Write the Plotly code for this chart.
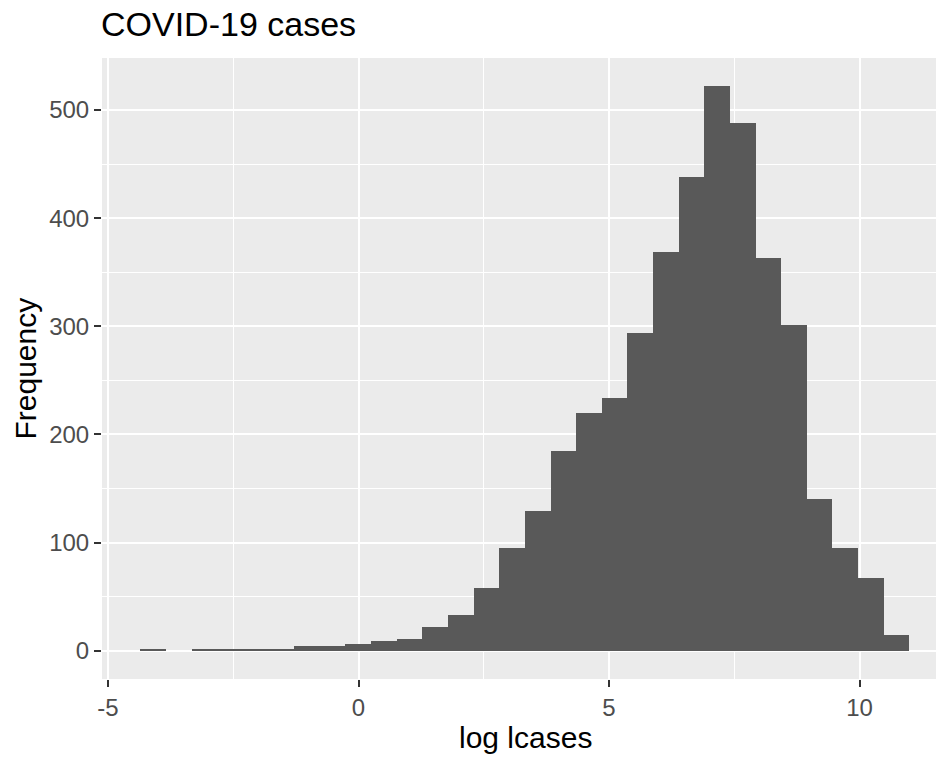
import plotly.graph_objects as go

# Histogram of log cases: 30 bins (centres)
bin_width = 0.5116
bin_centers = [-4.097, -3.586, -3.074, -2.562, -2.051, -1.539, -1.028, -0.516,
               -0.004, 0.507, 1.019, 1.531, 2.042, 2.554, 3.065, 3.577, 4.089,
               4.600, 5.112, 5.623, 6.135, 6.647, 7.158, 7.670, 8.181, 8.693,
               9.205, 9.716, 10.228, 10.739]
counts = [2, 0, 2, 2, 2, 2, 4, 4, 6, 9, 11, 22, 33, 58, 95, 129, 185, 220,
          234, 294, 369, 438, 522, 488, 363, 301, 140, 95, 67, 15]

x_ticks = [-5, 0, 5, 10]
y_ticks = [0, 100, 200, 300, 400, 500]

title_text = "COVID-19 cases"
x_title = "log lcases"
y_title = "Frequency"

FONT = "Liberation Sans, Arial, sans-serif"

fig = go.Figure()
fig.add_trace(go.Bar(
    x=bin_centers, y=counts, width=[bin_width] * len(counts),
    marker=dict(color="#595959", line=dict(width=0)),
    hoverinfo="x+y", showlegend=False,
))

fig.update_layout(
    width=936, height=760,
    margin=dict(l=102, r=0, t=58, b=81),
    paper_bgcolor="white",
    plot_bgcolor="#EBEBEB",
    bargap=0,
    font=dict(family=FONT, color="#4D4D4D"),
    title=dict(text=title_text, x=101 / 936, xanchor="left", xref="container",
               y=1 - 24 / 760, yanchor="middle", yref="container",
               font=dict(size=34, color="black", family=FONT)),
    xaxis=dict(
        range=[-5.12, 11.527], tickvals=x_ticks, ticktext=[str(v) for v in x_ticks],
        showgrid=True, gridcolor="white", gridwidth=2.2,
        zeroline=False, showline=False,
        ticks="outside", ticklen=7, tickwidth=2, tickcolor="#333333",
        tickfont=dict(size=24, color="#4D4D4D", family=FONT),
        minor=dict(tickvals=[-2.5, 2.5, 7.5], showgrid=True, gridcolor="white",
                   gridwidth=1.1, ticks=""),
    ),
    yaxis=dict(
        range=[-26.1, 548.1], tickvals=y_ticks, ticktext=[str(v) for v in y_ticks],
        showgrid=True, gridcolor="white", gridwidth=2.2,
        zeroline=False, showline=False,
        ticks="outside", ticklen=7, tickwidth=2, tickcolor="#333333",
        tickfont=dict(size=24, color="#4D4D4D", family=FONT),
        minor=dict(tickvals=[50, 150, 250, 350, 450], showgrid=True,
                   gridcolor="white", gridwidth=1.1, ticks=""),
    ),
    annotations=[
        dict(text=x_title, xref="paper", yref="paper",
             x=(525 - 102) / 834, y=-(738 - 679.4) / 621.4,
             xanchor="center", yanchor="middle", showarrow=False,
             font=dict(size=30, color="black", family=FONT)),
        dict(text=y_title, xref="paper", yref="paper",
             x=-(102 - 25) / 834, y=0.5, textangle=-90,
             xanchor="center", yanchor="middle", showarrow=False,
             font=dict(size=30, color="black", family=FONT)),
    ],
)

fig.write_html("out.html")
